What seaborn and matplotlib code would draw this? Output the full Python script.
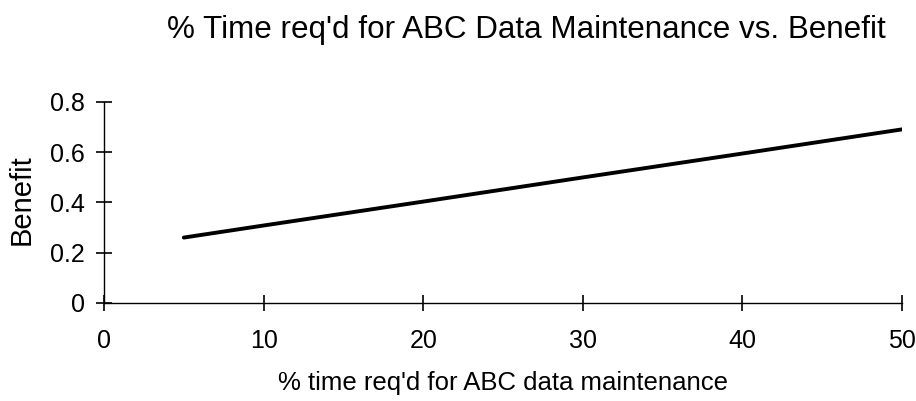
import matplotlib
matplotlib.use("Agg")
import matplotlib.pyplot as plt
import seaborn as sns
import pandas as pd

x_pct = [5, 10, 20, 30, 40, 50]
benefit = [0.26, 0.308, 0.403, 0.499, 0.594, 0.69]
x_ticks = [0, 10, 20, 30, 40, 50]
y_ticks = [0, 0.2, 0.4, 0.6, 0.8]
y_tick_labels = ["0", "0.2", "0.4", "0.6", "0.8"]
title = "% Time req'd for ABC Data Maintenance vs. Benefit"
xlabel = "% time req'd for ABC data maintenance"
ylabel = "Benefit"

sns.set_style("white")
plt.rcParams['font.family'] = ['Liberation Sans', 'DejaVu Sans']
plt.rcParams['text.color'] = 'black'
plt.rcParams['axes.labelcolor'] = 'black'

df = pd.DataFrame({"x": x_pct, "y": benefit})
fig = plt.figure(figsize=(9.16, 4.01), dpi=100)
W, H = 916, 401
ax = fig.add_axes([104/W, 1-303/H, (902-104)/W, (303-101.7)/H])
sns.lineplot(data=df, x="x", y="y", ax=ax, color="black", linewidth=2.8)
ax.set_xlim(0, 50)
ax.set_ylim(0, 0.8)
ax.set_xticks(x_ticks)
ax.set_xticklabels([str(t) for t in x_ticks])
ax.set_yticks(y_ticks)
ax.set_yticklabels(y_tick_labels)
for s in ["top", "right"]:
    ax.spines[s].set_visible(False)
for s in ["left", "bottom"]:
    ax.spines[s].set_color("black")
    ax.spines[s].set_linewidth(1.0)
ax.tick_params(axis="x", bottom=True, direction="inout", length=12, width=1.2,
               colors="black", labelsize=18, pad=13)
ax.tick_params(axis="y", left=True, direction="inout", length=12, width=1.2,
               colors="black", labelsize=18, pad=8)
ax.set_xlabel(xlabel, fontsize=18.5)
ax.set_ylabel(ylabel, fontsize=21)
ax.xaxis.label.set_va("center")
ax.yaxis.label.set_va("center")
ax.xaxis.set_label_coords((503.5-104)/798, (303-383)/201.3)
ax.yaxis.set_label_coords((22-104)/798, (303-200)/201.3)
fig.text(526.5/W, 1-30/H, title, fontsize=22.6, ha="center", va="center")
fig.savefig("out.png", dpi=100)
